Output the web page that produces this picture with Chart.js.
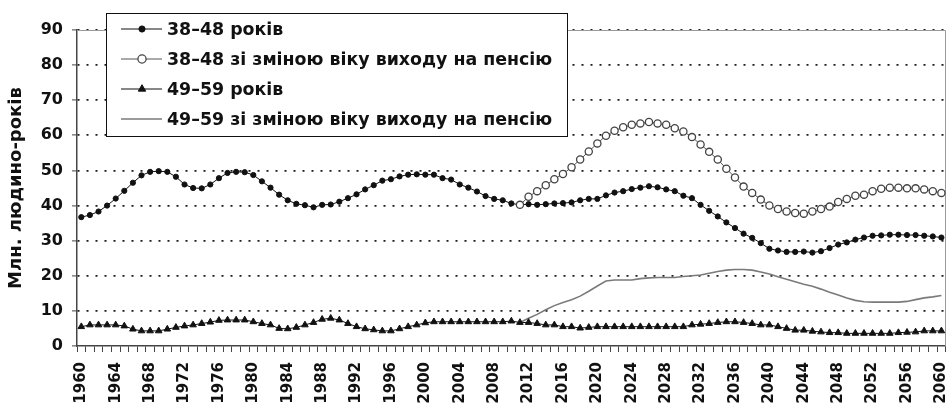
<!DOCTYPE html>
<html>
<head>
<meta charset="utf-8">
<script src="https://cdn.jsdelivr.net/npm/chart.js@4.4.1/dist/chart.umd.min.js"></script>
<style>
  html, body { margin: 0; padding: 0; background: #fff; }
  #wrap { width: 951px; height: 405px; position: relative; }
</style>
</head>
<body>
<div id="wrap"><canvas id="chart"></canvas></div>
<script>
// ---- data ----
const years = [
  '1960','1961','1962','1963','1964','1965','1966','1967','1968','1969',
  '1970','1971','1972','1973','1974','1975','1976','1977','1978','1979',
  '1980','1981','1982','1983','1984','1985','1986','1987','1988','1989',
  '1990','1991','1992','1993','1994','1995','1996','1997','1998','1999',
  '2000','2001','2002','2003','2004','2005','2006','2007','2008','2009',
  '2010','2011','2012','2013','2014','2015','2016','2017','2018','2019',
  '2020','2021','2022','2023','2024','2025','2026','2027','2028','2029',
  '2030','2031','2032','2033','2034','2035','2036','2037','2038','2039',
  '2040','2041','2042','2043','2044','2045','2046','2047','2048','2049',
  '2050','2051','2052','2053','2054','2055','2056','2057','2058','2059',
  '2060'
];

// підписи, що показуються на осі X
const shownYears = [
  '1960','1964','1968','1972','1976','1980','1984','1988','1992','1996',
  '2000','2004','2008','2012','2016','2020','2024','2028','2032','2036',
  '2040','2044','2048','2052','2056','2060'
];

// 38–48 років, 1960–2060
const age3848 = [
  36.7, 37.3, 38.3, 40.0, 42.0, 44.2, 46.5, 48.6, 49.6, 49.8,
  49.6, 48.2, 46.0, 45.0, 44.9, 46.0, 47.8, 49.3, 49.6, 49.5,
  48.7, 46.9, 45.1, 43.1, 41.5, 40.5, 40.1, 39.5, 40.2, 40.3,
  41.1, 42.1, 43.2, 44.6, 45.8, 47.1, 47.5, 48.3, 48.8, 48.9,
  48.8, 48.8, 47.8, 47.4, 46.0, 45.1, 44.0, 42.7, 41.9, 41.5,
  40.6, 40.2, 40.4, 40.2, 40.4, 40.6, 40.7, 40.9, 41.5, 41.9,
  41.9, 42.9, 43.7, 44.1, 44.7, 45.1, 45.5, 45.2, 44.6, 44.1,
  42.8, 42.1, 40.2, 38.5, 36.9, 35.2, 33.6, 32.0, 30.8, 29.3,
  27.7, 27.2, 26.8, 26.8, 26.9, 26.6, 27.0, 27.9, 28.9, 29.5,
  30.3, 30.9, 31.4, 31.5, 31.7, 31.7, 31.6, 31.6, 31.4, 31.2,
  30.9
];

// 38–48 зі зміною віку виходу на пенсію, 2011–2060
const reformStart = '2011';
const age3848Reform = [
  40.2, 42.5, 44.1, 45.8, 47.5, 49.0, 50.9, 53.1, 55.4, 57.7,
  59.9, 61.3, 62.3, 63.0, 63.4, 63.8, 63.4, 63.0, 62.0, 61.1,
  59.5, 57.4, 55.3, 53.1, 50.5, 48.0, 45.4, 43.6, 41.7, 40.0,
  39.0, 38.3, 37.9, 37.7, 38.3, 39.0, 39.7, 41.0, 41.9, 42.8,
  43.1, 44.1, 44.8, 45.1, 45.1, 44.9, 44.9, 44.6, 44.1, 43.6
];

// 49–59 років, 1960–2060
const age4959 = [
  5.5, 6.0, 6.0, 6.0, 6.0, 5.7, 4.8, 4.3, 4.3, 4.3,
  4.8, 5.3, 5.7, 6.0, 6.4, 6.8, 7.3, 7.4, 7.4, 7.4,
  6.9, 6.4, 6.0, 5.0, 4.9, 5.3, 6.0, 6.7, 7.6, 7.9,
  7.4, 6.4, 5.5, 4.9, 4.6, 4.3, 4.3, 4.9, 5.5, 6.0,
  6.6, 6.9, 6.9, 6.9, 6.9, 6.9, 6.9, 6.9, 6.9, 6.9,
  7.1, 6.7, 6.7, 6.4, 6.0, 6.0, 5.5, 5.5, 5.1, 5.3,
  5.5, 5.5, 5.5, 5.5, 5.5, 5.5, 5.5, 5.5, 5.5, 5.5,
  5.5, 6.0, 6.2, 6.4, 6.7, 6.9, 6.9, 6.7, 6.4, 6.0,
  6.0, 5.5, 5.0, 4.5, 4.5, 4.2, 4.0, 3.8, 3.8, 3.6,
  3.6, 3.6, 3.6, 3.6, 3.6, 3.8, 3.9, 4.0, 4.3, 4.3,
  4.3
];

// 49–59 зі зміною віку виходу на пенсію, 2011–2060
const age4959Reform = [
  6.7, 7.9, 9.0, 10.3, 11.5, 12.4, 13.2, 14.2, 15.6, 17.1,
  18.5, 18.8, 18.8, 18.8, 19.2, 19.4, 19.5, 19.5, 19.5, 19.8,
  20.0, 20.2, 20.7, 21.2, 21.6, 21.8, 21.8, 21.6, 21.1, 20.5,
  19.7, 19.0, 18.3, 17.6, 17.0, 16.2, 15.3, 14.5, 13.7, 13.0,
  12.6, 12.5, 12.5, 12.5, 12.5, 12.7, 13.2, 13.7, 14.0, 14.4
];

const seriesNames = [
  '38–48 років',
  '38–48 зі зміною віку виходу на пенсію',
  '49–59 років',
  '49–59 зі зміною віку виходу на пенсію'
];

// ---- helpers ----
const FONT = '"DejaVu Sans", "Liberation Sans", Arial, sans-serif';
const startIdx = years.indexOf(reformStart);
function fromStart(arr) {
  return years.map((y, i) => (i < startIdx ? null : arr[i - startIdx]));
}

// рамка області графіка (верх і право)
const plotFrame = {
  id: 'plotFrame',
  beforeDatasetsDraw(chart) {
    const { ctx, chartArea: a } = chart;
    ctx.save();
    ctx.strokeStyle = '#9a9a9a';
    ctx.lineWidth = 1;
    ctx.beginPath();
    ctx.moveTo(a.left, Math.round(a.top) + 0.5);
    ctx.lineTo(Math.round(a.right) - 0.5, Math.round(a.top) + 0.5);
    ctx.lineTo(Math.round(a.right) - 0.5, a.bottom);
    ctx.stroke();
    ctx.restore();
  }
};

// легенда всередині графіка, з лінією та маркером
const boxLegend = {
  id: 'boxLegend',
  afterDatasetsDraw(chart) {
    const { ctx, chartArea: a } = chart;
    const x0 = a.left + 29, y0 = 13, w = 461, h = 123;
    ctx.save();
    ctx.fillStyle = '#fff';
    ctx.fillRect(x0, y0, w, h);
    ctx.strokeStyle = '#111';
    ctx.lineWidth = 1;
    ctx.strokeRect(x0 + 0.5, y0 + 0.5, w, h);

    chart.data.datasets.forEach((ds, i) => {
      const y = y0 + 16 + i * 30;
      ctx.strokeStyle = ds.borderColor;
      ctx.lineWidth = ds.borderWidth;
      ctx.beginPath();
      ctx.moveTo(x0 + 15, y);
      ctx.lineTo(x0 + 56, y);
      ctx.stroke();
      if (ds.pointRadius > 0) {
        ctx.fillStyle = ds.pointBackgroundColor;
        ctx.strokeStyle = ds.pointBorderColor;
        ctx.lineWidth = ds.pointBorderWidth;
        Chart.helpers.drawPoint(ctx, {
          pointStyle: ds.pointStyle, radius: ds.pointRadius + 0.5,
          rotation: 0, borderWidth: ds.pointBorderWidth
        }, x0 + 36, y);
      }
      ctx.fillStyle = '#111';
      ctx.font = 'bold 17.4px ' + FONT;
      ctx.textBaseline = 'middle';
      ctx.textAlign = 'left';
      ctx.fillText(ds.label, x0 + 61, y + 1);
    });
    ctx.restore();
  }
};

// ---- chart ----
const ctx = document.getElementById('chart').getContext('2d');
new Chart(ctx, {
  type: 'line',
  data: {
    labels: years,
    datasets: [
      {
        label: seriesNames[0], data: age3848, order: 1,
        borderColor: '#111', borderWidth: 1,
        pointStyle: 'circle', pointRadius: 2.6,
        pointBackgroundColor: '#111', pointBorderColor: '#111', pointBorderWidth: 1
      },
      {
        label: seriesNames[1], data: fromStart(age3848Reform), order: 0,
        borderColor: '#555', borderWidth: 1,
        pointStyle: 'circle', pointRadius: 3.6,
        pointBackgroundColor: '#fff', pointBorderColor: '#444', pointBorderWidth: 1.3
      },
      {
        label: seriesNames[2], data: age4959, order: 2,
        borderColor: '#111', borderWidth: 1,
        pointStyle: 'triangle', pointRadius: 3.8,
        pointBackgroundColor: '#111', pointBorderColor: '#111', pointBorderWidth: 1
      },
      {
        label: seriesNames[3], data: fromStart(age4959Reform), order: 3,
        borderColor: '#7a7a7a', borderWidth: 1.6,
        pointRadius: 0,
        pointBackgroundColor: '#7a7a7a', pointBorderColor: '#7a7a7a', pointBorderWidth: 0
      }
    ]
  },
  options: {
    responsive: true,
    maintainAspectRatio: false,
    animation: false,
    layout: { padding: { left: 0, right: 3, top: 30, bottom: 0 } },
    plugins: {
      legend: { display: false },
      tooltip: { enabled: false }
    },
    elements: { line: { tension: 0 } },
    scales: {
      x: {
        type: 'category',
        offset: true,
        grid: {
          offset: true, drawOnChartArea: false, drawTicks: true,
          tickLength: 6, tickColor: '#444', tickWidth: 1
        },
        border: { display: true, color: '#444', width: 1.5 },
        ticks: {
          autoSkip: false, minRotation: 90, maxRotation: 90, padding: 10,
          color: '#111', font: { family: FONT, size: 15, weight: 'bold' },
          callback: function (v) {
            const lab = this.getLabelForValue(v);
            return shownYears.includes(lab) ? lab : '';
          }
        },
        afterFit: (s) => { s.height = 59; s.paddingLeft = 0; s.paddingRight = 0; }
      },
      y: {
        min: 0, max: 90,
        grid: {
          color: (c) => (c.tick && c.tick.value === 0 ? 'rgba(0,0,0,0)' : '#1a1a1a'),
          lineWidth: 1.8,
          drawTicks: true, tickLength: 5, tickColor: '#444', tickWidth: 1
        },
        border: { display: true, color: '#444', width: 1.5, dash: [2, 7] },
        ticks: {
          stepSize: 10, padding: 9,
          color: '#111', font: { family: FONT, size: 16, weight: 'bold' }
        },
        title: {
          display: true, text: 'Млн. людино-років',
          color: '#111', font: { family: FONT, size: 18, weight: 'bold' },
          padding: { top: 6, bottom: 0 }
        },
        afterFit: (s) => { s.width = 77; s.paddingTop = 0; s.paddingBottom = 0; }
      }
    }
  },
  plugins: [plotFrame, boxLegend]
});
</script>
</body>
</html>
